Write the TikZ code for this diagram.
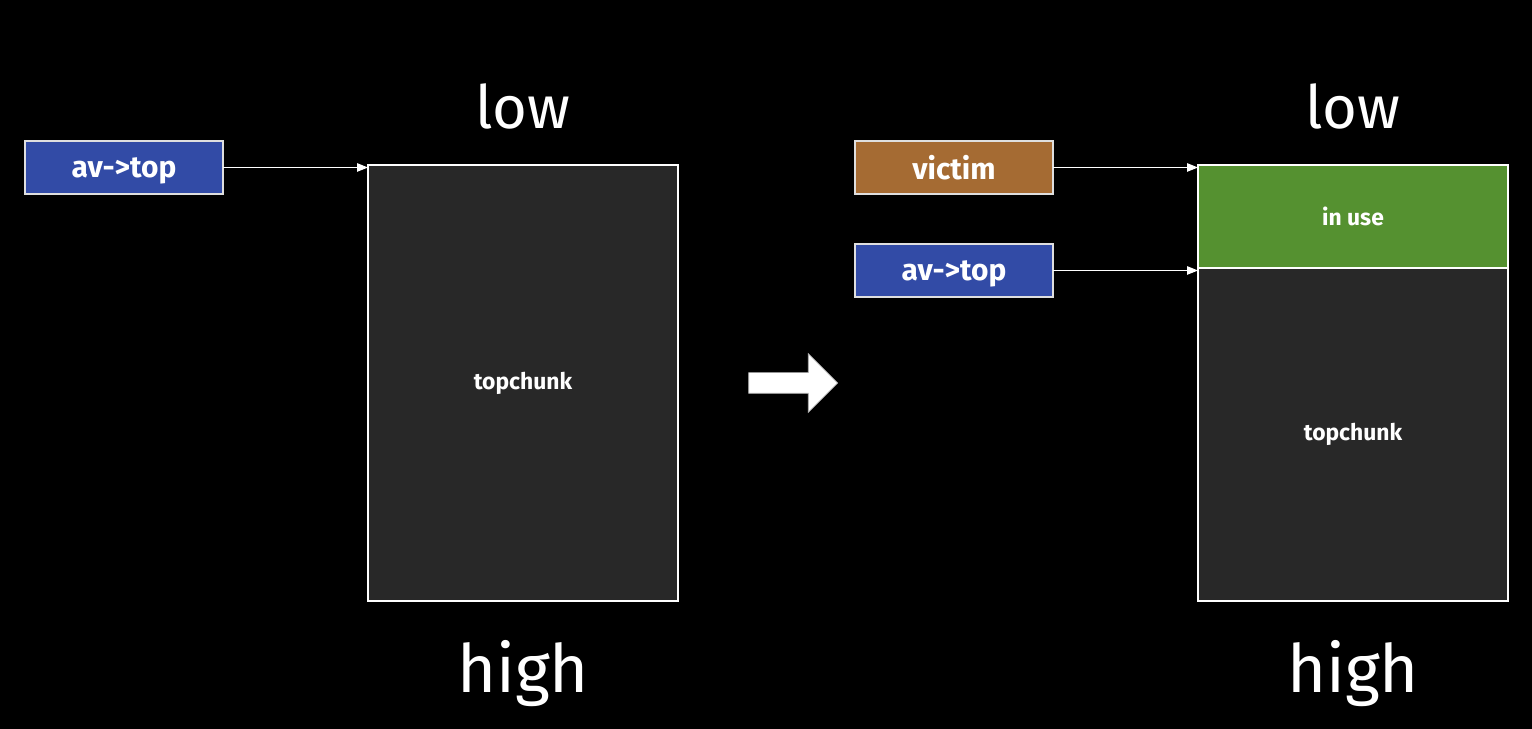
\documentclass[tikz,border=0pt]{standalone}
\usepackage{fontspec}
\setmainfont{Fira Sans}
\usetikzlibrary{positioning, arrows.meta, shapes.arrows}

\definecolor{ptrblue}{HTML}{324BA6}
\definecolor{victimbrown}{HTML}{A56B33}
\definecolor{usegreen}{HTML}{559130}
\definecolor{topgray}{HTML}{282828}

\tikzset{%
  % Specifications for style of nodes:
         ptr/.style = {rectangle, draw = gray!25, line width=0.8pt, outer sep=0pt, minimum width=3.96cm, minimum height=1.06cm, text depth=0pt, text=white, font=\fontsize{17}{20}\selectfont\bfseries},
       chunk/.style = {rectangle, draw = white, line width=1.2pt, outer sep=0pt, minimum width=6.2cm, fill=topgray, text=white, font=\fontsize{13}{16}\selectfont\bfseries},
        addr/.style = {text=white, inner sep=0pt},
}

\begin{document}
\begin{tikzpicture}[>={Triangle[length=0.22cm, width=0.17cm]}]
    \fill[black] (0,0) rectangle (30.64,14.58);
    \useasboundingbox (0,0) rectangle (30.64,14.58);

    % Draw nodes
    \node (top1)    [chunk, minimum height=8.72cm] at (10.46,6.92) {topchunk};
    \node (avtop1)  [ptr, fill=ptrblue] at (2.48,11.23)            {av->top};
    \node (low1)    [addr, above = 0.7cm of top1, font=\fontsize{34}{40}\selectfont]  {low};
    \node (high1)   [addr, below = 0.78cm of top1, font=\fontsize{38}{44}\selectfont] {high};

    \node (then)    [single arrow, fill=white, draw=gray!60, line width=0.4pt, inner sep=0.2cm,
                     minimum height=1.78cm, single arrow head extend=0.38cm] at (15.76,6.92) {};

    \node (inuse)   [chunk, minimum height=2.06cm, fill=usegreen] at (27.06,10.25) {in use};
    \node (top2)    [chunk, minimum height=6.66cm, below = 0cm of inuse]          {topchunk};
    \node (victim)  [ptr, fill=victimbrown] at (19.08,11.23)       {victim};
    \node (avtop2)  [ptr, fill=ptrblue, below = 1.0cm of victim]   {av->top};
    \node (low2)    [addr, above = 0.7cm of inuse, font=\fontsize{34}{40}\selectfont] {low};
    \node (high2)   [addr, below = 0.78cm of top2, font=\fontsize{38}{44}\selectfont] {high};

    % Draw arrows
    \draw[->, white, line width=0.6pt]  (avtop1.east) -- (avtop1.east -| top1.west);
    \draw[->, white, line width=0.6pt]  (victim.east) -- (victim.east -| inuse.west);
    \draw[->, white, line width=0.6pt]  (avtop2.east) -- (avtop2.east -| top2.west);

\end{tikzpicture}
\end{document}
